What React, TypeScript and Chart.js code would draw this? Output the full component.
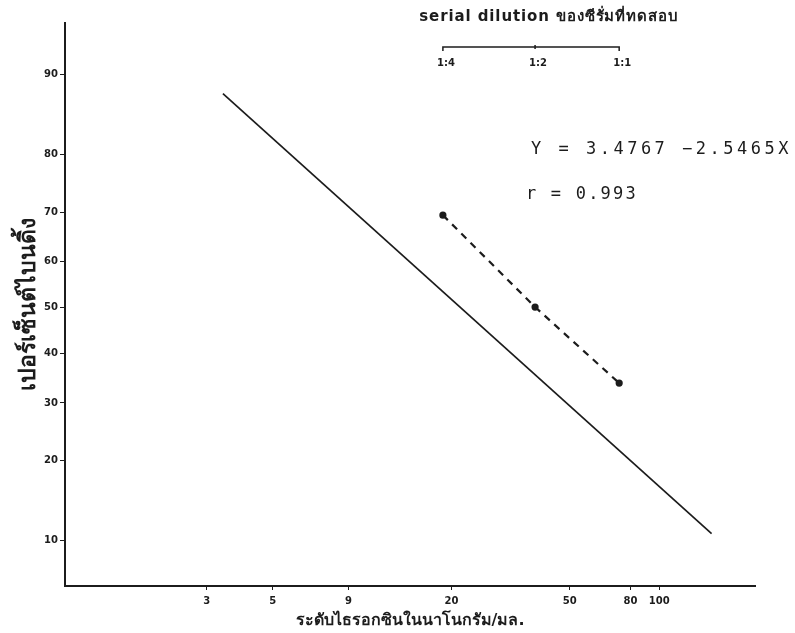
import React, { useEffect, useRef } from 'react';
import { Chart, LinearScale, registerables } from 'chart.js';

Chart.register(...registerables);

// ---- data ----
const yTickValues = [10, 20, 30, 40, 50, 60, 70, 80, 90];
const xTickValues = [3, 5, 9, 20, 50, 80, 100];
const standardLineX = [3.4, 150];
const standardLineY = [88, 10.7];
const dilutionLabels = ['1:4', '1:2', '1:1'];
const dilutionX = [18.7, 38.2, 73.3];
const dilutionY = [69.4, 50.1, 33.9];
const equationText = 'Y = 3.4767 −2.5465X';
const rText = 'r = 0.993';
const topTitle = 'serial dilution ของซีรั่มที่ทดสอบ';
const xTitle = 'ระดับไธรอกซินในนาโนกรัม/มล.';
const yTitle = 'เปอร์เซ็นต์ไบนดิ้ง';

// ---- probit helpers ----
function normInv(p: number): number {
  const a = [-3.969683028665376e1, 2.209460984245205e2, -2.759285104469687e2, 1.38357751867269e2, -3.066479806614716e1, 2.506628277459239];
  const b = [-5.447609879822406e1, 1.615858368580409e2, -1.556989798598866e2, 6.680131188771972e1, -1.328068155288572e1];
  const c = [-7.784894002430293e-3, -3.223964580411365e-1, -2.400758277161838, -2.549732539343734, 4.374664141464968, 2.938163982698783];
  const d = [7.784695709041462e-3, 3.224671290700398e-1, 2.445134137142996, 3.754408661907416];
  const pl = 0.02425;
  const ph = 1 - pl;
  if (p < pl) {
    const q = Math.sqrt(-2 * Math.log(p));
    return (((((c[0] * q + c[1]) * q + c[2]) * q + c[3]) * q + c[4]) * q + c[5]) / ((((d[0] * q + d[1]) * q + d[2]) * q + d[3]) * q + 1);
  }
  if (p <= ph) {
    const q = p - 0.5;
    const r = q * q;
    return ((((((a[0] * r + a[1]) * r + a[2]) * r + a[3]) * r + a[4]) * r + a[5]) * q) / (((((b[0] * r + b[1]) * r + b[2]) * r + b[3]) * r + b[4]) * r + 1);
  }
  const q = Math.sqrt(-2 * Math.log(1 - p));
  return -(((((c[0] * q + c[1]) * q + c[2]) * q + c[3]) * q + c[4]) * q + c[5]) / ((((d[0] * q + d[1]) * q + d[2]) * q + d[3]) * q + 1);
}
function normCdf(z: number): number {
  const t = 1 / (1 + 0.3275911 * Math.abs(z) / Math.SQRT2);
  const y = 1 - (((((1.061405429 * t - 1.453152027) * t + 1.421413741) * t - 0.284496736) * t + 0.254829592) * t) * Math.exp(-(z * z) / 2);
  return z >= 0 ? 0.5 * (1 + y) : 0.5 * (1 - y);
}
const probit = (pct: number) => normInv(Math.min(Math.max(pct / 100, 1e-6), 1 - 1e-6));

class ProbitScale extends LinearScale {
  static id = 'probit';
  static defaults = {};
  buildTicks() {
    const vals: number[] = (this.options as any).tickValues || [];
    return vals.map((v) => ({ value: v }));
  }
  getPixelForValue(value: number) {
    const a = probit(this.min);
    const b = probit(this.max);
    return this.getPixelForDecimal((probit(value) - a) / (b - a));
  }
  getValueForPixel(pixel: number) {
    const a = probit(this.min);
    const b = probit(this.max);
    const z = a + this.getDecimalForPixel(pixel) * (b - a);
    return normCdf(z) * 100;
  }
}
Chart.register(ProbitScale as any);

const INK = '#1c1c1c';

const annotationPlugin = {
  id: 'annotations',
  afterDraw(chart: any) {
    const ctx = chart.ctx as CanvasRenderingContext2D;
    const xs = chart.scales.x;
    ctx.save();
    ctx.fillStyle = INK;
    ctx.strokeStyle = INK;
    // top title
    ctx.font = 'bold 15px "DejaVu Sans", sans-serif';
    ctx.textAlign = 'center';
    ctx.textBaseline = 'middle';
    (ctx as any).letterSpacing = '0.9px';
    ctx.fillText(topTitle, 549, 17);
    (ctx as any).letterSpacing = '0px';
    // bracket for serial dilutions
    const px = dilutionX.map((v) => xs.getPixelForValue(v));
    const by = 47;
    ctx.lineWidth = 1.5;
    ctx.beginPath();
    ctx.moveTo(px[0], by + 4);
    ctx.lineTo(px[0], by);
    ctx.lineTo(px[px.length - 1], by);
    ctx.lineTo(px[px.length - 1], by + 4);
    ctx.moveTo(px[1], by - 2);
    ctx.lineTo(px[1], by + 2);
    ctx.stroke();
    ctx.font = 'bold 10px "DejaVu Sans", sans-serif';
    dilutionLabels.forEach((l, i) => ctx.fillText(l, px[i] + 3, 63));
    // equation
    ctx.font = '17px "DejaVu Sans Mono", monospace';
    ctx.textAlign = 'left';
    (ctx as any).letterSpacing = '3.5px';
    ctx.fillText(equationText, 531, 150);
    (ctx as any).letterSpacing = '2.2px';
    ctx.fillText(rText, 526, 195);
    ctx.restore();
  },
};

export default function App() {
  const ref = useRef<HTMLCanvasElement | null>(null);
  useEffect(() => {
    if (!ref.current) return;
    const chart = new Chart(ref.current, {
      type: 'line',
      data: {
        datasets: [
          {
            label: 'standard',
            data: standardLineX.map((x, i) => ({ x, y: standardLineY[i] })),
            borderColor: INK,
            borderWidth: 1.7,
            pointRadius: 0,
            tension: 0,
          },
          {
            label: 'dilution',
            data: dilutionX.map((x, i) => ({ x, y: dilutionY[i] })),
            borderColor: INK,
            borderWidth: 2.2,
            borderDash: [7, 6],
            pointRadius: 2.5,
            pointBackgroundColor: INK,
            pointBorderColor: INK,
            tension: 0,
          },
        ],
      },
      options: {
        responsive: false,
        animation: false,
        layout: { padding: { top: 23, right: 40, left: 0, bottom: 0 } },
        plugins: { legend: { display: false }, tooltip: { enabled: false } },
        scales: {
          x: {
            type: 'logarithmic',
            min: 1,
            max: 210,
            afterBuildTicks: (s: any) => {
              s.ticks = xTickValues.map((v) => ({ value: v }));
            },
            afterFit: (s: any) => {
              s.height = 47;
            },
            grid: { display: true, drawOnChartArea: false, tickLength: 4, color: INK, lineWidth: 1 },
            border: { display: true, color: INK, width: 2 },
            ticks: {
              autoSkip: false,
              maxRotation: 0,
              padding: 5,
              color: INK,
              font: { family: '"DejaVu Sans", sans-serif', size: 10, weight: 'bold' },
              callback: (v: any) => String(v),
            },
            title: {
              display: true,
              text: xTitle,
              color: INK,
              padding: { top: 0, bottom: 3 },
              font: { family: '"DejaVu Sans", sans-serif', size: 16, weight: 'bold', lineHeight: 1.2 },
            },
          },
          y: {
            type: 'probit' as any,
            min: 6.3,
            max: 94.1,
            tickValues: yTickValues,
            afterFit: (s: any) => {
              s.width = 65;
            },
            grid: { display: true, drawOnChartArea: false, tickLength: 5, color: INK, lineWidth: 1 },
            border: { display: true, color: INK, width: 2 },
            ticks: {
              padding: 2,
              color: INK,
              font: { family: '"DejaVu Sans", sans-serif', size: 10, weight: 'bold' },
              callback: (v: any) => String(v),
            },
            title: {
              display: true,
              text: yTitle,
              color: INK,
              padding: { top: 15, bottom: 0 },
              font: { family: '"DejaVu Sans", sans-serif', size: 23, weight: 'bold', lineHeight: 1.2 },
            },
          } as any,
        },
      },
      plugins: [annotationPlugin],
    } as any);
    return () => chart.destroy();
  }, []);
  return (
    <div style={{ position: 'absolute', left: 0, top: 0, width: 795, height: 633, background: '#fff' }}>
      <canvas ref={ref} width={795} height={633} style={{ display: 'block' }} />
    </div>
  );
}
